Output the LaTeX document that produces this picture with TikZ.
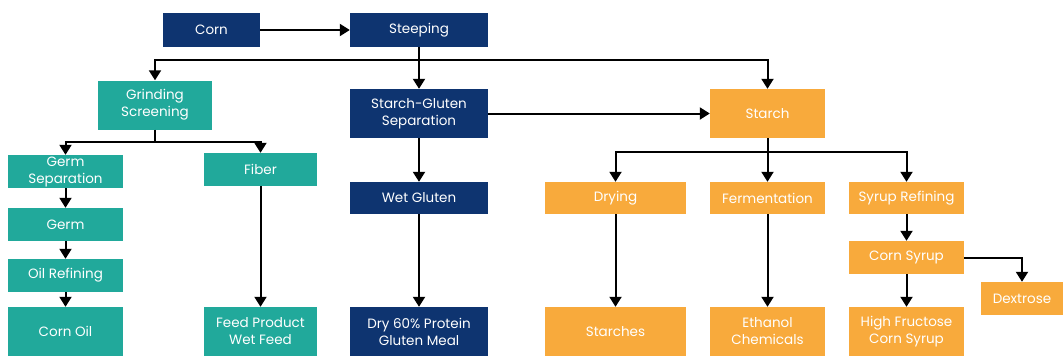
\documentclass[tikz,border=0pt]{standalone}
\usepackage{fontspec}
\setmainfont{Poppins}
\usepackage{tikz}
\usetikzlibrary{arrows.meta, positioning, calc}
\definecolor{cnavy}{HTML}{0E3470}
\definecolor{cteal}{HTML}{21A99B}
\definecolor{corange}{HTML}{F8AA3C}
\tikzset{
  >=Latex,
  box/.style={
    fill=#1, draw=none, text=white, align=center, inner sep=0pt,
    font=\fontsize{13.5}{17}\selectfont
  },
  box/.default=cnavy,
  arr/.style={-{Triangle[length=10pt,width=12pt]}, line width=2pt, draw=black},
  flow/.style={line width=2pt, draw=black}
}
\begin{document}
\begin{tikzpicture}[x=1pt,y=-1pt]
  \useasboundingbox (0,0) rectangle (1063,356);
  % main line
  \node[box=cnavy,minimum width=97pt,minimum height=34pt] (corn) at (211.5,30) {Corn};
  \node[box=cnavy,minimum width=138pt,minimum height=34pt] (steep) at (419,30) {Steeping};
  \node[box=cteal,minimum width=114pt,minimum height=49pt] (grind) at (155,105) {Grinding\\Screening};
  \node[box=cnavy,minimum width=138pt,minimum height=49pt] (sgsep) at (419,113.5) {Starch-Gluten\\Separation};
  \node[box=corange,minimum width=115pt,minimum height=49pt] (starch) at (767.5,113.5) {Starch};
  % germ and fiber
  \node[box=cteal,minimum width=115pt,minimum height=33pt] (germsep) at (65.5,171.5) {Germ\\Separation};
  \node[box=cteal,minimum width=113pt,minimum height=33pt] (fiber) at (260.5,169.5) {Fiber};
  \node[box=cteal,minimum width=115pt,minimum height=33pt] (germ) at (65.5,224.5) {Germ};
  \node[box=cteal,minimum width=115pt,minimum height=33pt] (oilref) at (65.5,275.5) {Oil Refining};
  \node[box=cteal,minimum width=115pt,minimum height=49pt] (cornoil) at (65.5,331.5) {Corn Oil};
  \node[box=cteal,minimum width=113pt,minimum height=49pt] (feed) at (260.5,331.5) {Feed Product\\Wet Feed};
  % gluten
  \node[box=cnavy,minimum width=138pt,minimum height=32pt] (wetgluten) at (419,198) {Wet Gluten};
  \node[box=cnavy,minimum width=138pt,minimum height=49pt] (glutenmeal) at (419,331.5) {Dry 60\% Protein\\Gluten Meal};
  % starch products
  \node[box=corange,minimum width=141pt,minimum height=32pt] (drying) at (615.5,198) {Drying};
  \node[box=corange,minimum width=115pt,minimum height=32pt] (ferment) at (767.5,198) {Fermentation};
  \node[box=corange,minimum width=115pt,minimum height=32pt] (syrupref) at (906.5,198) {Syrup Refining};
  \node[box=corange,minimum width=115pt,minimum height=33pt] (cornsyrup) at (906.5,257.5) {Corn Syrup};
  \node[box=corange,minimum width=82pt,minimum height=33pt] (dextrose) at (1022,298.5) {Dextrose};
  \node[box=corange,minimum width=141pt,minimum height=49pt] (starches) at (615.5,331.5) {Starches};
  \node[box=corange,minimum width=115pt,minimum height=49pt] (ethanol) at (767.5,331.5) {Ethanol\\Chemicals};
  \node[box=corange,minimum width=115pt,minimum height=49pt] (hfcs) at (906.5,331.5) {High Fructose\\Corn Syrup};

  \coordinate (split) at (419,60);
  \coordinate (grindsplit) at (155,142);
  \coordinate (starchsplit) at (767.5,152);

  \draw[arr] (corn) -- (steep);
  \draw[arr] (steep) -- (sgsep);
  \draw[arr] (split) -| (grind);
  \draw[arr] (split) -| (starch);
  \draw[arr] (sgsep) -- (starch);
  \draw[flow] (grind) -- (grindsplit);
  \draw[arr] (grindsplit) -| (germsep);
  \draw[arr] (grindsplit) -| (fiber);
  \draw[arr] (germsep) -- (germ);
  \draw[arr] (germ) -- (oilref);
  \draw[arr] (oilref) -- (cornoil);
  \draw[arr] (fiber) -- (feed);
  \draw[arr] (sgsep) -- (wetgluten);
  \draw[arr] (wetgluten) -- (glutenmeal);
  \draw[flow] (starch) -- (starchsplit);
  \draw[arr] (starchsplit) -| (drying);
  \draw[arr] (starchsplit) -- (ferment);
  \draw[arr] (starchsplit) -| (syrupref);
  \draw[arr] (drying) -- (starches);
  \draw[arr] (ferment) -- (ethanol);
  \draw[arr] (syrupref) -- (cornsyrup);
  \draw[arr] (cornsyrup) -- (hfcs);
  \draw[arr] (cornsyrup) -| (dextrose);
\end{tikzpicture}
\end{document}
